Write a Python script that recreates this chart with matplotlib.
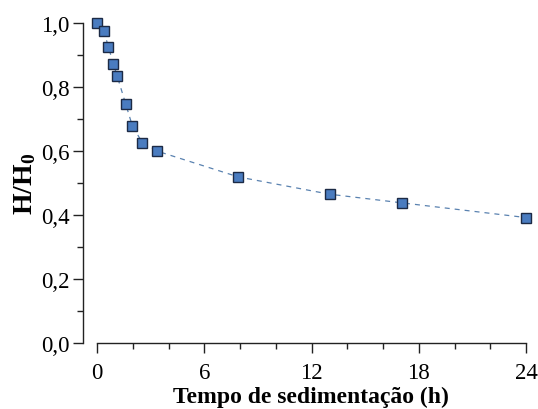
import matplotlib
matplotlib.use("Agg")
import matplotlib.pyplot as plt
from matplotlib.ticker import MultipleLocator

plt.rcParams['font.family'] = ['Liberation Serif', 'DejaVu Serif']
plt.rcParams['mathtext.fontset'] = 'custom'
plt.rcParams['mathtext.rm'] = 'Liberation Serif'
plt.rcParams['mathtext.bf'] = 'Liberation Serif:bold'

tempo_h = [0, 0.37, 0.62, 0.9, 1.12, 1.59, 1.96, 2.52, 3.33, 7.9, 13.0, 17.05, 24.0]
h_ratio = [1.0, 0.974, 0.926, 0.872, 0.833, 0.747, 0.679, 0.626, 0.600, 0.519, 0.465, 0.438, 0.392]

x_ticks = [0, 6, 12, 18, 24]
y_ticks = [0.0, 0.2, 0.4, 0.6, 0.8, 1.0]
y_ticklabels = ['0,0', '0,2', '0,4', '0,6', '0,8', '1,0']

fig = plt.figure(figsize=(5.38, 4.10), dpi=100)
ax = fig.add_axes([83/538, 66/410, (526-83)/538, (344-24)/410])

ax.plot(tempo_h, h_ratio, linestyle=(0, (4, 4)), color='#5a82b0', linewidth=0.9, zorder=2)
ax.plot(tempo_h, h_ratio, linestyle='none', marker='s', markersize=6.6,
        markerfacecolor='#4a7cc0', markeredgecolor='#1c2a45', markeredgewidth=1.0,
        clip_on=False, zorder=3)

ax.set_xlim(-0.8, 24)
ax.set_ylim(0, 1.0)

for s in ['top', 'right']:
    ax.spines[s].set_visible(False)
ax.spines['bottom'].set_bounds(0, 24)
ax.spines['left'].set_bounds(0, 1.0)
for s in ['bottom', 'left']:
    ax.spines[s].set_linewidth(1.0)
    ax.spines[s].set_color('#222222')

ax.set_xticks(x_ticks)
ax.set_xticklabels([str(v) for v in x_ticks])
ax.xaxis.set_minor_locator(MultipleLocator(2))
ax.set_yticks(y_ticks)
ax.set_yticklabels(y_ticklabels)
ax.yaxis.set_minor_locator(MultipleLocator(0.1))

ax.tick_params(axis='both', which='major', direction='out', length=7.5, width=1.0,
               labelsize=16.5, colors='#222222', labelcolor='black')
ax.tick_params(axis='both', which='minor', direction='out', length=4.5, width=1.0,
               colors='#222222')
ax.tick_params(axis='x', which='major', pad=6)
ax.tick_params(axis='y', which='major', pad=2)

ax.set_xlabel('Tempo de sedimentação (h)', fontsize=17, fontweight='bold')
ax.xaxis.set_label_coords((311 - 83) / 443, -0.183)
ax.xaxis.label.set_verticalalignment('baseline')
ax.set_ylabel(r'$\mathbf{H/H_0}$', fontsize=20, labelpad=2)

fig.savefig('out.png', dpi=100)
